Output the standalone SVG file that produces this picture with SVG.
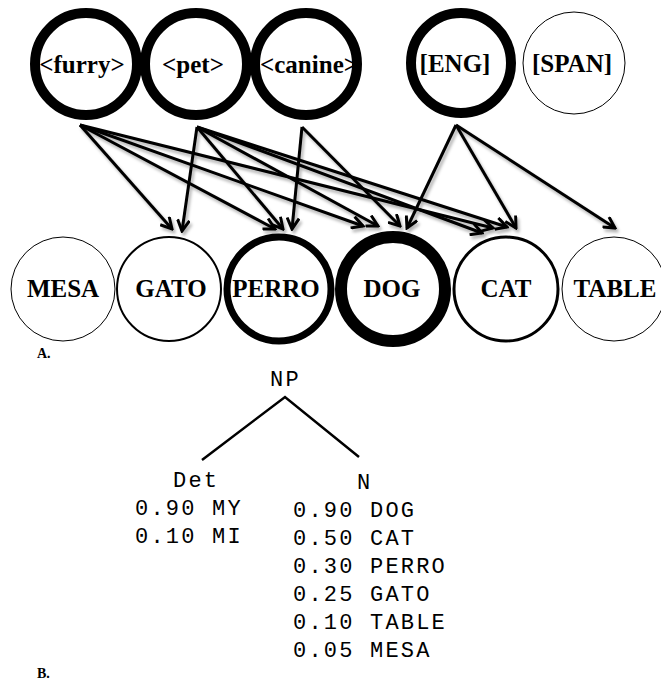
<svg xmlns="http://www.w3.org/2000/svg" width="661" height="681" viewBox="0 0 661 681">
<defs>
<style>
.n{fill:#fff;stroke:#000}
.t{font-family:"Liberation Serif","Times New Roman",serif;font-weight:bold;font-size:25px;text-anchor:middle;fill:#000}
.m{font-family:"Liberation Mono","Courier New",monospace;font-size:22px;letter-spacing:2.2px;fill:#000}
.lbl{font-family:"Liberation Serif","Times New Roman",serif;font-weight:bold;font-size:14px;fill:#000}
.c line{stroke:#000;stroke-width:3;marker-end:url(#ah)}
</style>
<marker id="ah" viewBox="0 0 14 14" refX="12" refY="7" markerWidth="14" markerHeight="14" markerUnits="userSpaceOnUse" orient="auto">
<path d="M1,1 L12,7 L1,13" fill="none" stroke="#000" stroke-width="3"/>
</marker>
<filter id="sh" x="-10%" y="-10%" width="130%" height="130%">
<feDropShadow dx="2" dy="3" stdDeviation="1.5" flood-color="#000" flood-opacity="0.3"/>
</filter>
</defs>
<rect width="661" height="681" fill="#fff"/>

<g id="furry"><circle class="n" cx="86" cy="64" r="51" stroke-width="10"/><text class="t" x="82" y="73">&lt;furry&gt;</text></g>
<g id="pet"><circle class="n" cx="196" cy="64" r="51" stroke-width="10"/><text class="t" x="193" y="73">&lt;pet&gt;</text></g>
<g id="canine"><circle class="n" cx="306" cy="64" r="51" stroke-width="10"/><text class="t" x="309" y="73">&lt;canine&gt;</text></g>
<g id="eng"><circle class="n" cx="461" cy="63" r="50" stroke-width="10"/><text class="t" x="455" y="72">[ENG]</text></g>
<g id="span"><circle class="n" cx="574" cy="63" r="51" stroke-width="1"/><text class="t" x="572" y="72">[SPAN]</text></g>

<g id="mesa"><circle class="n" cx="63" cy="289" r="52" stroke-width="1"/><text class="t" x="63" y="297">MESA</text></g>
<g id="gato"><circle class="n" cx="169" cy="289" r="52" stroke-width="2"/><text class="t" x="171" y="297">GATO</text></g>
<g id="perro"><circle class="n" cx="279" cy="289" r="52" stroke-width="7"/><text class="t" x="276" y="297">PERRO</text></g>
<g id="dog"><circle class="n" cx="393" cy="289" r="52" stroke-width="12"/><text class="t" x="392" y="297">DOG</text></g>
<g id="cat"><circle class="n" cx="506" cy="289" r="52" stroke-width="3"/><text class="t" x="506" y="297">CAT</text></g>
<g id="table"><circle class="n" cx="614" cy="289" r="52" stroke-width="1"/><text class="t" x="615" y="297">TABLE</text></g>

<g id="connectors" class="c" filter="url(#sh)">
<line x1="80" y1="125" x2="172" y2="229"/>
<line x1="80" y1="125" x2="275" y2="229"/>
<line x1="80" y1="125" x2="363" y2="226"/>
<line x1="80" y1="125" x2="493" y2="228"/>
<line x1="197" y1="127" x2="182" y2="231"/>
<line x1="197" y1="127" x2="283" y2="229"/>
<line x1="197" y1="127" x2="378" y2="226"/>
<line x1="197" y1="127" x2="482" y2="233"/>
<line x1="197" y1="127" x2="507" y2="227"/>
<line x1="302" y1="127" x2="292" y2="229"/>
<line x1="302" y1="127" x2="400" y2="226"/>
<line x1="456" y1="125" x2="407" y2="228"/>
<line x1="456" y1="125" x2="516" y2="228"/>
<line x1="456" y1="125" x2="615" y2="228"/>
</g>

<text class="lbl" x="37" y="358">A.</text>

<g id="tree">
<text class="m" x="270" y="386">NP</text>
<polyline points="202,460 285,397 359,457" fill="none" stroke="#000" stroke-width="2.5"/>
<text class="m" x="173" y="487">Det</text>
<text class="m" x="135" y="515">0.90 MY</text>
<text class="m" x="135" y="543">0.10 MI</text>
<text class="m" x="357" y="489">N</text>
<text class="m" x="293" y="517">0.90 DOG</text>
<text class="m" x="293" y="545">0.50 CAT</text>
<text class="m" x="293" y="573">0.30 PERRO</text>
<text class="m" x="293" y="601">0.25 GATO</text>
<text class="m" x="293" y="629">0.10 TABLE</text>
<text class="m" x="293" y="657">0.05 MESA</text>
</g>

<text class="lbl" x="37" y="678">B.</text>
</svg>
